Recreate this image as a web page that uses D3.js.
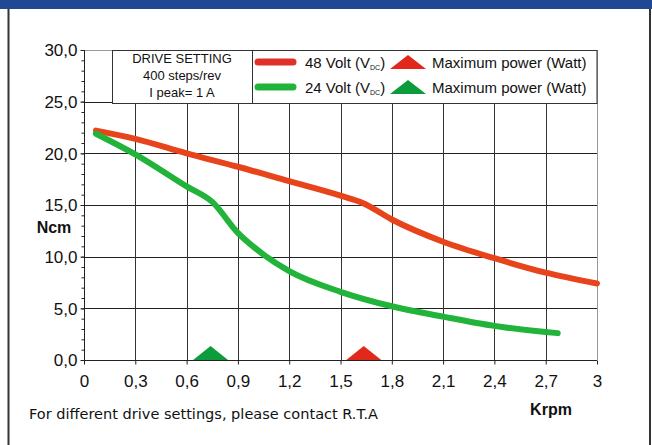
<!DOCTYPE html>
<html><head><meta charset="utf-8">
<script src="https://cdn.jsdelivr.net/npm/d3@7"></script>
<style>
html,body{margin:0;padding:0;background:#fff;}
svg{display:block;}
text{font-family:"Liberation Sans",Arial,sans-serif;fill:#111;}
</style></head>
<body>
<svg id="chart" width="652" height="445"></svg>
<script>
// ---- data ----
const xTickValues = [0, 0.3, 0.6, 0.9, 1.2, 1.5, 1.8, 2.1, 2.4, 2.7, 3];
const xTickLabels = ["0", "0,3", "0,6", "0,9", "1,2", "1,5", "1,8", "2,1", "2,4", "2,7", "3"];
const yTickValues = [0, 5, 10, 15, 20, 25, 30];
const yTickLabels = ["0,0", "5,0", "10,0", "15,0", "20,0", "25,0", "30,0"];
const volt48Krpm = [0.07, 0.3, 0.6, 0.9, 1.2, 1.5, 1.63, 1.8, 2.1, 2.4, 2.7, 3.0];
const volt48Ncm  = [22.2, 21.4, 20.0, 18.7, 17.3, 15.9, 15.2, 13.6, 11.45, 9.85, 8.45, 7.4];
const volt24Krpm = [0.07, 0.3, 0.6, 0.75, 0.9, 1.05, 1.2, 1.5, 1.8, 2.1, 2.4, 2.7, 2.77];
const volt24Ncm  = [21.9, 19.9, 16.8, 15.3, 12.3, 10.2, 8.6, 6.6, 5.2, 4.2, 3.3, 2.7, 2.6];
const maxPowerKrpm = [1.636, 0.74];   // 48 V, 24 V
const seriesNames = ["48 Volt (V", "24 Volt (V"];
const driveSetting = ["DRIVE SETTING", "400 steps/rev", "I peak= 1 A"];

const lineColors = ["#e8441c", "#22b33a"];
const legendLineColors = ["#e0302a", "#22b33a"];
const triColors = ["#e0291c", "#0c9c3c"];

const svg = d3.select("#chart");

// frame
svg.append("rect").attr("x", 0).attr("y", 0).attr("width", 652).attr("height", 9).attr("fill", "#1f4a93");
svg.append("line").attr("x1", 8.5).attr("x2", 8.5).attr("y1", 9).attr("y2", 445).attr("stroke", "#333").attr("stroke-width", 2);
svg.append("line").attr("x1", 650).attr("x2", 650).attr("y1", 9).attr("y2", 445).attr("stroke", "#333").attr("stroke-width", 2);

const x = d3.scaleLinear().domain([0, 3]).range([84, 597]);
const y = d3.scaleLinear().domain([0, 30]).range([360, 50]);

const g = svg.append("g");

// grid
g.selectAll(".hgrid").data(yTickValues.filter(v => v > 0)).enter().append("line")
  .attr("x1", x(0)).attr("x2", x(3))
  .attr("y1", d => Math.round(y(d)) + 0.5).attr("y2", d => Math.round(y(d)) + 0.5)
  .attr("stroke", d => d === 30 ? "#999" : "#222").attr("stroke-width", 1);
g.selectAll(".vgrid").data(xTickValues.filter(v => v > 0)).enter().append("line")
  .attr("y1", y(0)).attr("y2", y(30))
  .attr("x1", d => Math.round(x(d)) + 0.5).attr("x2", d => Math.round(x(d)) + 0.5)
  .attr("stroke", d => d === 3 ? "#999" : "#333").attr("stroke-width", 1);

// axes
const yAxis = d3.axisLeft(y).tickValues(yTickValues).tickSize(4).tickPadding(3)
  .tickFormat((d, i) => yTickLabels[i]);
const yMinor = d3.axisLeft(y).tickValues(d3.range(0, 31, 1)).tickSize(3).tickFormat("");
const yAx = g.append("g").attr("transform", "translate(" + (Math.round(x(0)) + 0.5) + ",0)").call(yMinor);
yAx.select(".domain").remove();
const yAx2 = g.append("g").attr("transform", "translate(" + (Math.round(x(0)) + 0.5) + ",0)").call(yAxis);
yAx2.select(".domain").attr("d", "M0," + y(30) + "V" + (y(0) + 4));
yAx2.selectAll("text").attr("font-size", 17).attr("fill", "#111").attr("dy", "0.34em");
yAx.selectAll("line").attr("stroke", "#222");
yAx2.selectAll("line,path").attr("stroke", "#222");

const xAxis = d3.axisBottom(x).tickValues(xTickValues).tickSize(4).tickPadding(10)
  .tickFormat((d, i) => xTickLabels[i]);
const xAx = g.append("g").attr("transform", "translate(0," + (Math.round(y(0)) + 0.5) + ")").call(xAxis);
xAx.select(".domain").attr("d", "M" + x(0) + ",0H" + x(3));
xAx.selectAll("line,path").attr("stroke", "#222");
xAx.selectAll("text").attr("font-size", 17).attr("fill", "#111");

// curves
const line = d3.line().x(d => x(d[0])).y(d => y(d[1])).curve(d3.curveMonotoneX);
const series = [
  d3.zip(volt48Krpm, volt48Ncm),
  d3.zip(volt24Krpm, volt24Ncm)
];
series.forEach((s, i) => {
  g.append("path").datum(s).attr("d", line).attr("fill", "none")
    .attr("stroke", lineColors[i]).attr("stroke-width", 6).attr("stroke-linecap", "round").attr("stroke-linejoin", "round");
});

// max power triangles
const triHalf = 17.5, triH = 14;
maxPowerKrpm.forEach((k, i) => {
  const cx = x(k), by = y(0);
  g.append("path").attr("d", "M" + (cx - triHalf) + "," + by + "L" + cx + "," + (by - triH) + "L" + (cx + triHalf) + "," + by + "Z")
    .attr("fill", triColors[i]);
});

// legend box
const lg = svg.append("g");
lg.append("rect").attr("x", 112.5).attr("y", 50.5).attr("width", x(3) - 112.5).attr("height", 53)
  .attr("fill", "#fff").attr("stroke", "#333").attr("stroke-width", 1);
lg.append("line").attr("x1", 252.5).attr("x2", 252.5).attr("y1", 50.5).attr("y2", 103.5).attr("stroke", "#333");
driveSetting.forEach((t, i) => {
  lg.append("text").attr("x", 182).attr("y", 63 + i * 16.8).attr("text-anchor", "middle")
    .attr("font-size", 13).text(t);
});
const rowsY = [62, 87];
seriesNames.forEach((name, i) => {
  const yy = rowsY[i];
  lg.append("line").attr("x1", 258).attr("x2", 293).attr("y1", yy).attr("y2", yy)
    .attr("stroke", legendLineColors[i]).attr("stroke-width", 7).attr("stroke-linecap", "round");
  const t = lg.append("text").attr("x", 305).attr("y", yy + 6).attr("font-size", 15);
  t.append("tspan").text(name);
  t.append("tspan").attr("font-size", 7).attr("dy", 2).text("DC");
  t.append("tspan").attr("dy", -2).text(")");
  lg.append("path").attr("d", "M390," + (yy + 7) + "L408," + (yy - 7) + "L426," + (yy + 7) + "Z").attr("fill", triColors[i]);
  lg.append("text").attr("x", 432).attr("y", yy + 6).attr("font-size", 15).text("Maximum power (Watt)");
});

// axis titles and footer
svg.append("text").attr("x", 54).attr("y", 233).attr("text-anchor", "middle").attr("font-size", 16)
  .attr("font-weight", "bold").text("Ncm");
svg.append("text").attr("x", 551).attr("y", 415).attr("text-anchor", "middle").attr("font-size", 16)
  .attr("font-weight", "bold").text("Krpm");
svg.append("text").attr("x", 29).attr("y", 419).attr("font-size", 14)
  .style("font-family", "'DejaVu Sans Condensed','DejaVu Sans',sans-serif")
  .attr("textLength", 349).attr("lengthAdjust", "spacingAndGlyphs")
  .text("For different drive settings, please contact R.T.A");
</script>
</body></html>
